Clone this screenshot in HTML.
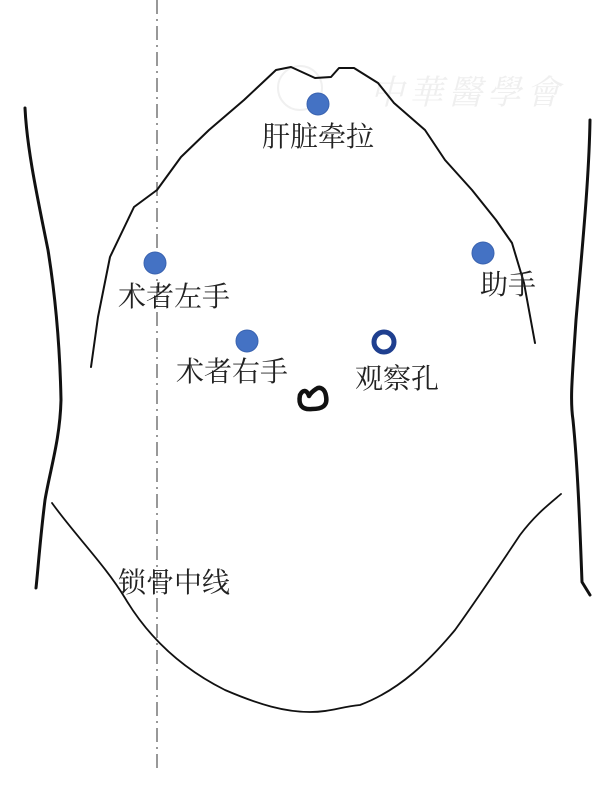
<!DOCTYPE html>
<html><head><meta charset="utf-8"><style>
html,body{margin:0;padding:0;background:#fff;}
svg{display:block}
text{font-family:"Liberation Serif","Noto Serif CJK SC","Noto Sans CJK SC",serif;fill:#222;font-size:28px}
</style></head><body>
<svg width="615" height="786" viewBox="0 0 615 786" xmlns="http://www.w3.org/2000/svg">
<text x="370" y="104" style="fill:#efefef;font-size:34px;font-style:italic" textLength="190">中華醫學會</text>
<circle cx="300" cy="88" r="22" fill="none" stroke="#f0f0f0" stroke-width="2"/>
<line x1="157" y1="0" x2="157" y2="772" stroke="#777" stroke-width="1.5" stroke-dasharray="14,5,2,5"/>
<g fill="none" stroke="#111" stroke-linejoin="round" stroke-linecap="round">
<path d="M25,108 C27,150 38,200 48,250 C56,300 60,350 61,400 C60,440 50,470 45,500 C40,540 38,570 36,588" stroke-width="3"/>
<path d="M590,120 C589,180 582,250 576,320 C572,380 570,400 573,420 C578,470 580,530 582,582 L590,595" stroke-width="3"/>
<path d="M91,367 L98,317 L110,257 L134,207 L157,190 L181,157 L209,130 L244,100 L276,70 L291,67 L315,78 L331,77 L339,68 L354,68 L378,83 L394,103 L425,130 L445,160 L472,190 L496,220 L512,243 L524,283 L535,343" stroke-width="2"/>
<path d="M52,503 C75,535 105,565 125,598 C150,640 185,670 225,690 C260,705 285,712 310,712 C330,712 340,707 360,705 C400,690 430,660 455,630 C480,595 500,565 520,535 C535,515 548,505 561,494" stroke-width="1.8"/>
<path d="M300,395 C298,405 302,410 312,409 C322,409 328,406 326,396 C325,389 320,386 316,389 C313,391 310,394 309,396 C307,390 303,389 300,395 Z" stroke-width="4.5"/>
</g>
<g fill="#4472c4" stroke="#3a63b0" stroke-width="1">
<circle cx="318" cy="104" r="11"/>
<circle cx="155" cy="263" r="11"/>
<circle cx="483" cy="253" r="11"/>
<circle cx="247" cy="341" r="11"/>
</g>
<circle cx="384" cy="342" r="10" fill="#fff" stroke="#1f3f8f" stroke-width="5"/>
<text x="262" y="146">肝脏牵拉</text>
<text x="118" y="306">术者左手</text>
<text x="480" y="294">助手</text>
<text x="176" y="381">术者右手</text>
<text x="355" y="388">观察孔</text>
<text x="118" y="592">锁骨中线</text>
</svg>
</body></html>
